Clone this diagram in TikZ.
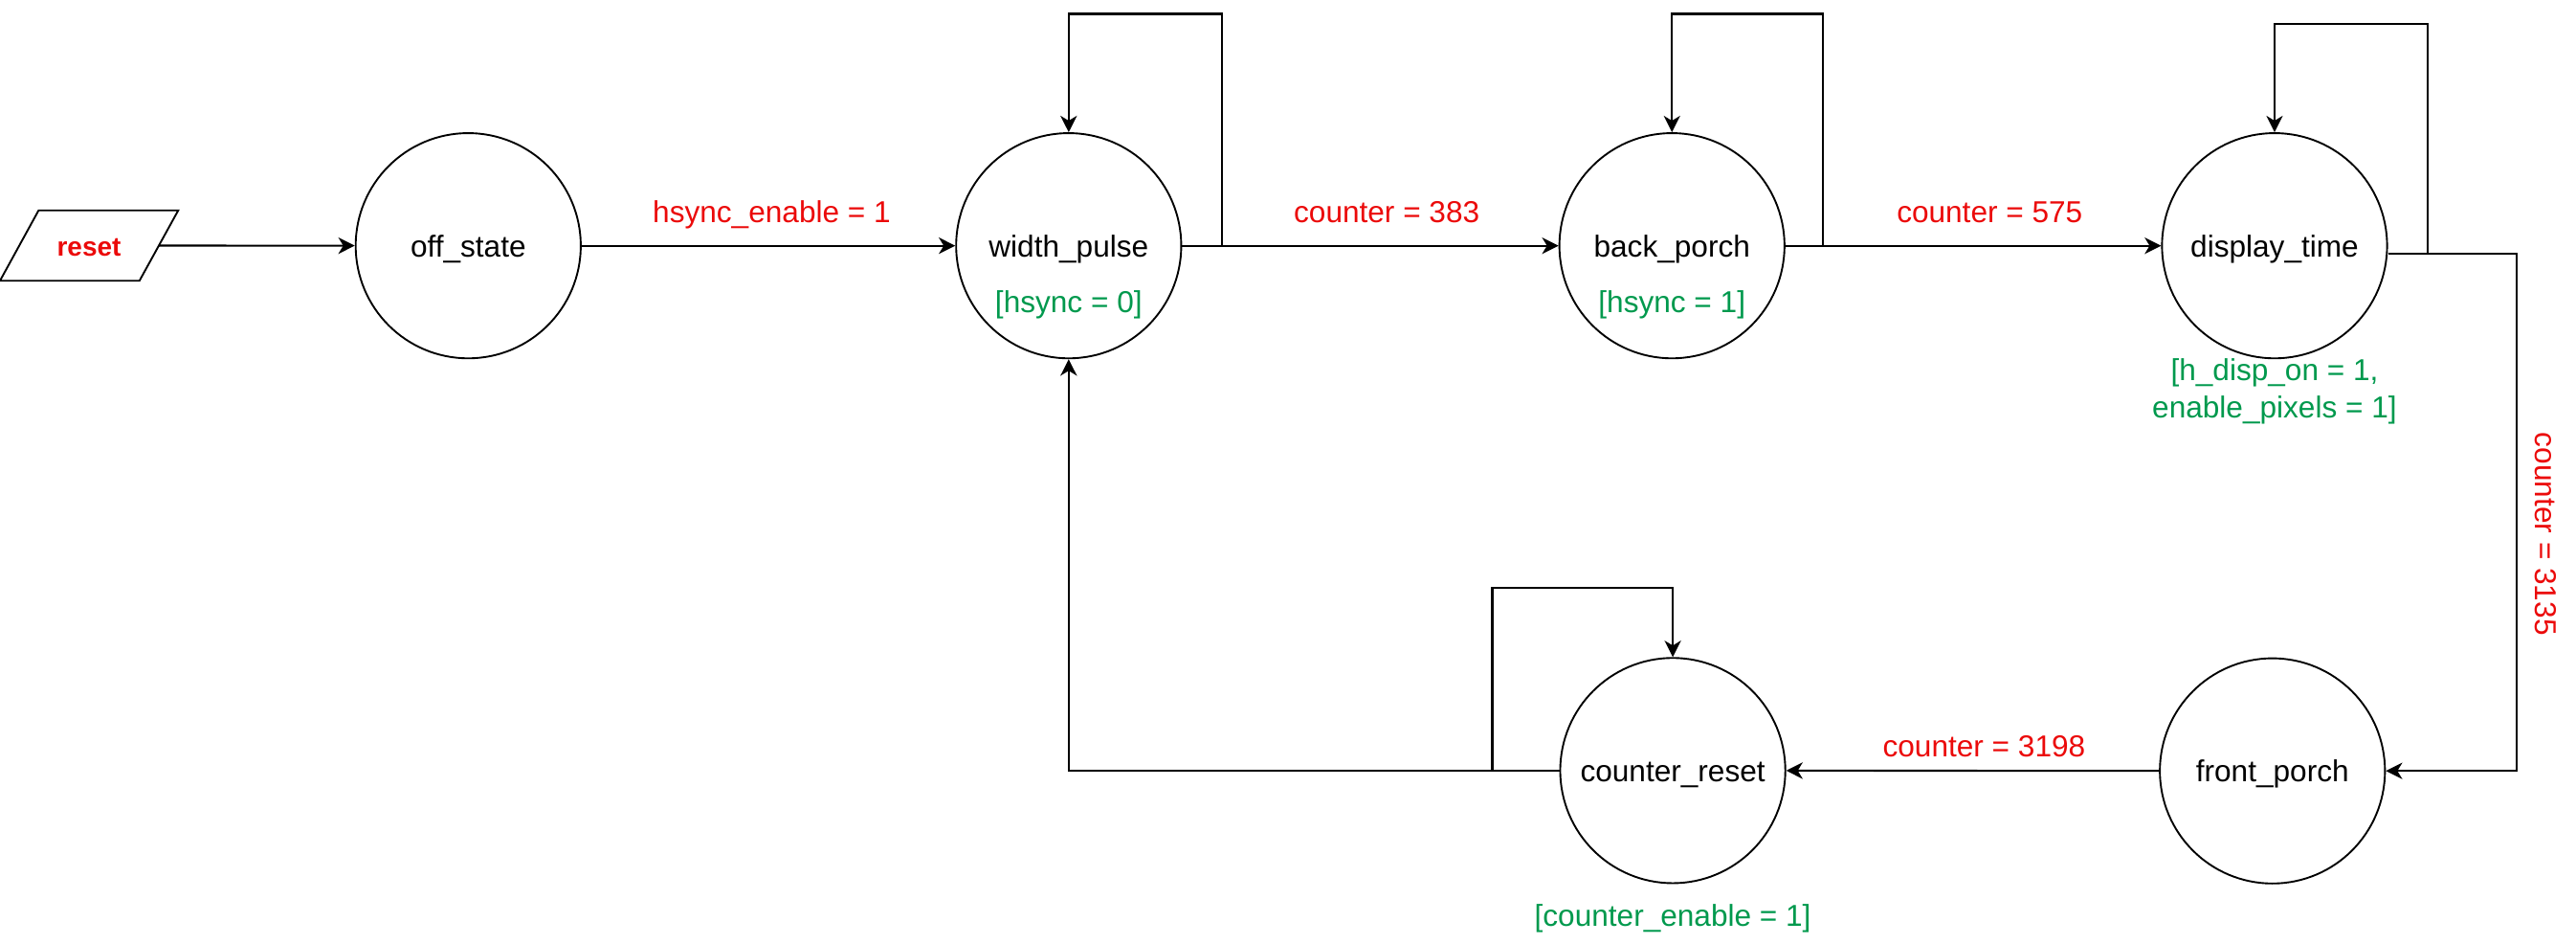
\documentclass[tikz,border=0pt]{standalone}
\usepackage{fontspec}
\setmainfont{Liberation Sans}
\usetikzlibrary{arrows.meta}
\definecolor{trred}{RGB}{235,10,10}
\definecolor{outgreen}{RGB}{0,153,77}
\newcommand{\fsmfont}{\fontsize{18.4}{22.4}\selectfont}
\tikzset{
  state/.style={draw, circle, minimum size=137pt, inner sep=0pt, line width=1.1pt, font=\fsmfont,
    text height=15.5pt, text depth=2pt},
  trans/.style={line width=1.2pt, -{Stealth[length=10pt,width=10pt,inset=3pt]}},
  cond/.style={text=trred, font=\fsmfont, text height=13.5pt, text depth=4pt},
  outp/.style={text=outgreen, font=\fsmfont, align=center}
}
\begin{document}
\begin{tikzpicture}[x=1pt,y=1pt]
\useasboundingbox (0,0) rectangle (1568,-574.3);

% reset input
\draw[line width=1.1pt] (0,-170.8) -- (23.5,-128) -- (108.5,-128) -- (84.9,-170.8) -- cycle;
\node[text=trred, font=\fontsize{16.3}{20}\selectfont\bfseries] (reset) at (54.2,-150.6) {reset};
\coordinate (resetout) at (96.7,-149.4);

% states
\node[state] (off) at (285,-149.5) {off\_state};
\node[state] (wp) at (650.5,-149.5) {width\_pulse};
\node[state] (bp) at (1017.7,-149.5) {back\_porch};
\node[state] (dt) at (1384.5,-149.5) {display\_time};
\node[state] (fp) at (1383.2,-469) {front\_porch};
\node[state] (cr) at (1018.2,-468.8) {counter\_reset};

% outputs
\node[outp] (wpout) at ([yshift=-36pt]wp.center) {[hsync = 0]};
\node[outp] (bpout) at ([yshift=-36pt]bp.center) {[hsync = 1]};
\node[outp] (dtout) at ([yshift=-88.5pt]dt.center) {[h\_disp\_on = 1,\\enable\_pixels = 1]};
\node[outp] (crout) at ([yshift=-90pt]cr.center) {[counter\_enable = 1]};

% transitions
\draw[trans] (resetout) -- (off);
\draw[trans] (off) -- node[cond, above=6pt, xshift=2pt] {hsync\_enable = 1} (wp);
\draw[trans] (wp) -- node[cond, above=6pt, xshift=10pt] {counter = 383} (bp);
\draw[trans] (bp) -- node[cond, above=6pt, xshift=10pt] {counter = 575} (dt);
\draw[trans] ([yshift=-4.9pt]dt.east) -- ++(78.1,0)
  |- node[cond, rotate=-90, anchor=south, inner ysep=7pt, pos=0.271] {counter = 3135} (fp.east);
\draw[trans] (fp) -- node[cond, above=0.5pt, xshift=7pt] {counter = 3198} (cr);
\draw[trans] (cr.west) -| (wp.south);

% self loops
\draw[trans] (wp.east) -- ++(24,0) |- ([yshift=72pt]wp.north) -- (wp.north);
\draw[trans] (bp.east) -- ++(23,0) |- ([yshift=72pt]bp.north) -- (bp.north);
\draw[trans] ([yshift=-4.9pt]dt.east) -- ++(24.2,0) |- ([yshift=66pt]dt.north) -- (dt.north);
\draw[trans] (cr.west) -- ++(-40.8,0) |- ([yshift=42.2pt]cr.north) -- (cr.north);

\end{tikzpicture}
\end{document}
